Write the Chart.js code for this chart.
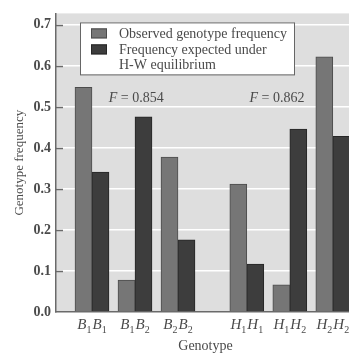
<!DOCTYPE html>
<html>
<head>
<meta charset="utf-8">
<script src="https://cdn.jsdelivr.net/npm/chart.js@4"></script>
<style>
  html, body { margin: 0; padding: 0; background: #fff; overflow: hidden; }
  #wrap { position: absolute; left: 0; top: 0; width: 385px; height: 355px; }
</style>
</head>
<body>
<div id="wrap"><canvas id="hw" width="385" height="355"></canvas></div>
<script>
// genotype groups: base letter + allele subscripts
var genotypes = [['B', '1', 'B', '1'], ['B', '1', 'B', '2'], ['B', '2', 'B', '2'],
                 ['H', '1', 'H', '1'], ['H', '1', 'H', '2'], ['H', '2', 'H', '2']];
var groupPos = [1, 2, 3, 4.6, 5.6, 6.6]; // spacing on the x scale (gap between loci)
var observed = [0.548, 0.078, 0.378, 0.312, 0.066, 0.622];
var expected = [0.341, 0.476, 0.176, 0.117, 0.446, 0.428];
var fLabels = ['0.854', '0.862'];
var fPos = [2.03, 5.3];

var serif = '"Liberation Serif", "DejaVu Serif", serif';
var textCol = '#4a4a4a';

function pts(vals) {
    return vals.map(function (v, i) { return { x: groupPos[i], y: v }; });
}

var plotBg = {
    id: 'plotBg',
    beforeDraw: function (chart) {
        var a = chart.chartArea, c = chart.ctx;
        c.save();
        c.fillStyle = '#dedede';
        c.fillRect(a.left, a.top, a.right - a.left, a.bottom - a.top);
        c.restore();
    },
    beforeDatasetsDraw: function (chart) {
        // short inward tick marks on the y axis
        var c = chart.ctx, y = chart.scales.y, a = chart.chartArea;
        c.save();
        c.strokeStyle = '#6a6a6a';
        c.lineWidth = 1.5;
        y.ticks.forEach(function (t) {
            if (t.value === 0) return;
            var py = Math.round(y.getPixelForValue(t.value)) + 0.5;
            c.beginPath();
            c.moveTo(a.left, py);
            c.lineTo(a.left + 7, py);
            c.stroke();
        });
        c.restore();
    }
};

var extras = {
    id: 'extras',
    afterDraw: function (chart) {
        var c = chart.ctx, xs = chart.scales.x, ys = chart.scales.y, a = chart.chartArea;
        c.save();
        c.fillStyle = textCol;
        c.textBaseline = 'alphabetic';

        // genotype labels with subscripts
        genotypes.forEach(function (g, i) {
            var big = 'italic 15px ' + serif, small = '10px ' + serif;
            c.font = big; var w1 = c.measureText(g[0]).width, w3 = c.measureText(g[2]).width;
            c.font = small; var w2 = c.measureText(g[1]).width, w4 = c.measureText(g[3]).width;
            var total = w1 + w2 + w3 + w4 + 1;
            var x = xs.getPixelForValue(groupPos[i]) - total / 2;
            var base = a.bottom + 17;
            c.textAlign = 'left';
            c.font = big; c.fillText(g[0], x, base); x += w1;
            c.font = small; c.fillText(g[1], x, base + 4); x += w2 + 1;
            c.font = big; c.fillText(g[2], x, base); x += w3;
            c.font = small; c.fillText(g[3], x, base + 4);
        });

        // inbreeding coefficient notes
        fLabels.forEach(function (f, i) {
            var rest = ' = ' + f;
            c.font = 'italic 14px ' + serif; var wf = c.measureText('F').width;
            c.font = '14px ' + serif; var wr = c.measureText(rest).width;
            var x = xs.getPixelForValue(fPos[i]) - (wf + wr) / 2;
            var y = ys.getPixelForValue(0.513);
            c.font = 'italic 14px ' + serif; c.fillText('F', x, y);
            c.font = '14px ' + serif; c.fillText(rest, x + wf, y);
        });

        // legend box
        var lx = a.left + 24, ly = a.top + 9, lw = 214, lh = 52;
        c.fillStyle = '#ffffff';
        c.fillRect(lx, ly, lw, lh);
        c.strokeStyle = '#666';
        c.lineWidth = 1;
        c.strokeRect(lx + 0.5, ly + 0.5, lw, lh);
        c.font = '14px ' + serif;
        chart.data.datasets.forEach(function (ds, i) {
            var sy = ly + 6 + i * 16;
            c.fillStyle = ds.backgroundColor;
            c.fillRect(lx + 11, sy, 16, 10);
            c.strokeStyle = ds.borderColor;
            c.strokeRect(lx + 11.5, sy + 0.5, 15, 9);
            c.fillStyle = textCol;
            var lines = Array.isArray(ds.label) ? ds.label : [ds.label];
            lines.forEach(function (t, j) {
                c.fillText(t, lx + 39, sy + 10 + j * 14.5);
            });
        });
        c.restore();
    }
};

new Chart(document.getElementById('hw'), {
    type: 'bar',
    data: {
        datasets: [{
            label: 'Observed genotype frequency',
            data: pts(observed),
            backgroundColor: '#767676',
            borderColor: '#4c4c4c',
            borderWidth: 1,
            barThickness: 17
        }, {
            label: ['Frequency expected under', 'H-W equilibrium'],
            data: pts(expected),
            backgroundColor: '#3d3d3d',
            borderColor: '#262626',
            borderWidth: 1,
            barThickness: 17
        }]
    },
    options: {
        responsive: false,
        animation: false,
        devicePixelRatio: 1,
        layout: { padding: { top: 3, right: 30, left: 0, bottom: 0 } },
        plugins: {
            legend: { display: false },
            tooltip: { enabled: false }
        },
        scales: {
            x: {
                type: 'linear',
                offset: false,
                min: 0.163,
                max: 7.116,
                grid: { display: false },
                border: { color: '#6a6a6a', width: 1.5 },
                ticks: { display: false, stepSize: 1, includeBounds: false },
                title: {
                    display: true,
                    text: 'Genotype',
                    color: textCol,
                    font: { family: serif, size: 14 },
                    padding: { top: 0, bottom: 0 }
                },
                afterFit: function (s) { s.height = 43; }
            },
            y: {
                min: 0,
                max: 0.728,
                grid: { color: '#ffffff', lineWidth: 1.5, drawTicks: false },
                border: { color: '#6a6a6a', width: 1.5 },
                ticks: {
                    stepSize: 0.1,
                    includeBounds: false,
                    padding: 5,
                    color: textCol,
                    font: { family: serif, size: 14, weight: 'bold' },
                    callback: function (v) { return v.toFixed(1); }
                },
                title: {
                    display: true,
                    text: 'Genotype frequency',
                    color: textCol,
                    font: { family: serif, size: 13 },
                    padding: { top: 12, bottom: 0 }
                },
                afterFit: function (s) { s.width = 56; }
            }
        }
    },
    plugins: [plotBg, extras]
});
</script>
</body>
</html>
